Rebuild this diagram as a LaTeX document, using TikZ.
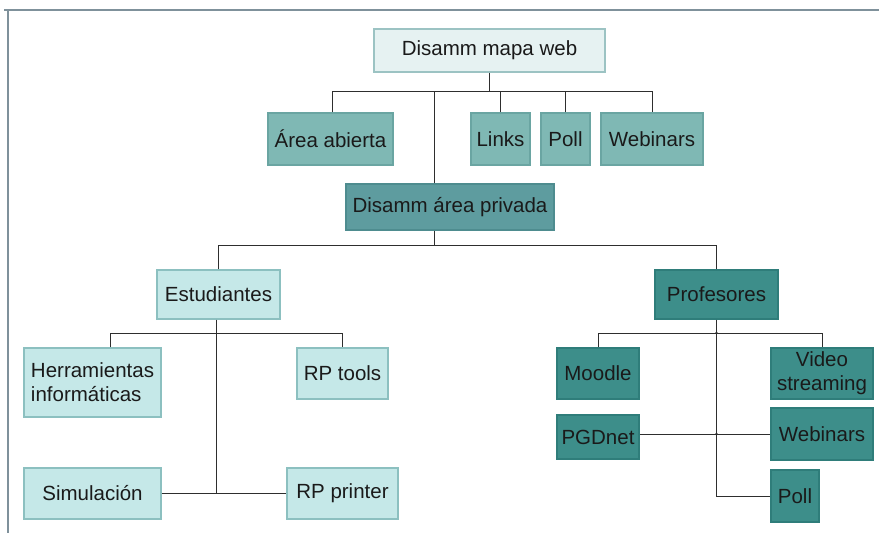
\documentclass[tikz,border=0pt]{standalone}
\usepackage{fontspec}
\setmainfont{Liberation Sans}
\definecolor{framecol}{HTML}{7F919B}
\definecolor{linecol}{HTML}{2E2E2E}
\definecolor{txtcol}{HTML}{1A1A1A}
\definecolor{topfill}{HTML}{E6F2F2}\definecolor{topdraw}{HTML}{9CC3C3}
\definecolor{midfill}{HTML}{7FB8B4}\definecolor{middraw}{HTML}{6AA5A2}
\definecolor{privfill}{HTML}{5E9C9F}\definecolor{privdraw}{HTML}{4E8C8F}
\definecolor{stufill}{HTML}{C5E8E8}\definecolor{studraw}{HTML}{8CC0C0}
\definecolor{proffill}{HTML}{3D8E8A}\definecolor{profdraw}{HTML}{2F7D7A}
\tikzset{
  box/.style={draw, line width=1.2pt, inner sep=0pt, align=center, text=txtcol,
    font=\fontsize{20.5}{24}\selectfont},
  topbox/.style={box, fill=topfill, draw=topdraw},
  midbox/.style={box, fill=midfill, draw=middraw},
  privbox/.style={box, fill=privfill, draw=privdraw},
  stubox/.style={box, fill=stufill, draw=studraw},
  profbox/.style={box, fill=proffill, draw=profdraw},
  conn/.style={draw=linecol, line width=1pt},
  wh/.style 2 args={minimum width=#1pt, minimum height=#2pt}
}
\begin{document}
\begin{tikzpicture}[x=1pt,y=-1pt]
\useasboundingbox (0,0) rectangle (879,533);
% frame
\draw[framecol, line width=2pt] (4,9.5) -- (879,9.5);
\draw[framecol, line width=2pt] (8,9.5) -- (8,533);
% nodes
\node[topbox, wh={231}{43}] (top) at (489.5,50.5) {Disamm mapa web};
\node[midbox, wh={125}{52}] (area) at (330.5,139) {Área abierta};
\node[midbox, wh={59}{52}] (links) at (500.5,139) {Links};
\node[midbox, wh={49}{52}] (pollA) at (565.5,139) {Poll};
\node[midbox, wh={102}{52}] (webA) at (652,139) {Webinars};
\node[privbox, wh={208}{46}] (priv) at (450,207) {Disamm área privada};
\node[stubox, wh={123}{49}] (estud) at (218.5,294.5) {Estudiantes};
\node[profbox, wh={123}{49}] (prof) at (716.5,294.5) {Profesores};
\node[stubox, wh={137}{69}, align=left] (herr) at (92.5,382.5) {Herramientas\\informáticas};
\node[stubox, wh={91}{51}] (rptools) at (342.5,373.5) {RP tools};
\node[stubox, wh={137}{51}] (simul) at (92.5,493.5) {Simulación};
\node[stubox, wh={111}{51}] (rpprint) at (342.5,493.5) {RP printer};
\node[profbox, wh={82}{51}] (moodle) at (598,373.5) {Moodle};
\node[profbox, wh={102}{51}] (video) at (822,373.5) {Video\\streaming};
\node[profbox, wh={82}{44}] (pgd) at (598,437) {PGDnet};
\node[profbox, wh={102}{52}] (webB) at (822,434) {Webinars};
\node[profbox, wh={48}{52}] (pollB) at (795,496) {Poll};
% bus coordinates
\coordinate (b1) at (0,91);
\coordinate (b2) at (0,245);
\coordinate (b3) at (0,333);
% level 1
\draw[conn] (top.south) -- (top.south |- b1);
\draw[conn] ([xshift=1.5pt]area.north) |- (webA.north |- b1) -- (webA.north);
\draw[conn] (links.north) -- (links.north |- b1);
\draw[conn] (pollA.north) -- (pollA.north |- b1);
\draw[conn] ([xshift=-16pt]priv.north) -- ([xshift=-16pt]priv.north |- b1);
% level 2
\draw[conn] ([xshift=-16pt]priv.south) -- ([xshift=-16pt]priv.south |- b2);
\draw[conn] (estud.north) |- (prof.north |- b2) -- (prof.north);
% students
\draw[conn] ([xshift=-2pt]estud.south) -- ([xshift=-2pt]estud.south |- simul.east);
\draw[conn] ([xshift=18pt]herr.north) |- (rptools.north |- b3) -- (rptools.north);
\draw[conn] (simul.east) -- (rpprint.west);
% professors
\draw[conn] (prof.south) |- (pollB.west);
\draw[conn] (moodle.north) |- (video.north |- b3) -- (video.north);
\draw[conn] (pgd.east |- webB.west) -- (webB.west);
\fill[linecol] (prof.south |- b3) circle (1.3pt);
\fill[linecol] (prof.south |- webB.west) circle (1.3pt);
\end{tikzpicture}
\end{document}
